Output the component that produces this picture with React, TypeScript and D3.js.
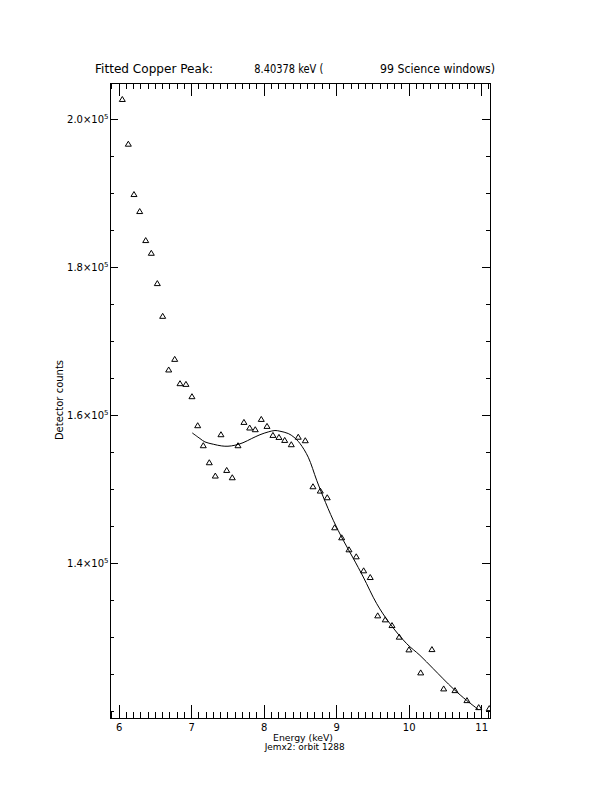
import React from "react";
import * as d3 from "d3";

// Measured spectrum (energy in keV, detector counts)
const energy = [
  6.043, 6.126, 6.204, 6.283, 6.366, 6.443, 6.526, 6.6, 6.683, 6.766,
  6.839, 6.921, 7.004, 7.083, 7.16, 7.243, 7.326, 7.404, 7.483, 7.56,
  7.639, 7.721, 7.8, 7.877, 7.96, 8.039, 8.121, 8.204, 8.283, 8.374,
  8.47, 8.567, 8.673, 8.774, 8.87, 8.972, 9.069, 9.17, 9.27, 9.372,
  9.463, 9.566, 9.67, 9.763, 9.863, 9.997, 10.159, 10.314, 10.476, 10.632,
  10.797, 10.959, 11.105,
];
const counts = [
  202743, 196703, 189905, 187608, 183689, 181972, 177878, 173458, 166215, 167647,
  164363, 164269, 162607, 158688, 155985, 153687, 151890, 157471, 152647, 151660,
  155985, 159134, 158377, 158147, 159539, 158593, 157377, 157106, 156701, 156120,
  157133, 156661, 150444, 149863, 148958, 144903, 143552, 141930, 140984, 139092,
  138187, 133011, 132471, 131700, 130133, 128416, 125308, 128457, 123146, 122916,
  121565, 120619, 120484,
];

// Fitted model curve
const fitEnergy = [
  7.008, 7.114, 7.183, 7.298, 7.414, 7.501, 7.597, 7.708, 7.828, 7.942,
  8.057, 8.149, 8.218, 8.332, 8.411, 8.494, 8.608, 8.724, 8.815, 8.953,
  9.091, 9.229, 9.367, 9.552, 9.735, 9.966, 10.149, 10.332, 10.608, 10.793,
  10.953,
];
const fitCounts = [
  157647, 156890, 156431, 156120, 155890, 155850, 155985, 156322, 156890, 157403,
  157782, 157971, 157877, 157566, 157066, 156215, 154364, 151255, 149000, 145850,
  143148, 140716, 138187, 134592, 131889, 129187, 127605, 125808, 123106, 121525,
  120308,
];

const xMajorTicks = [6, 7, 8, 9, 10, 11];
const xTickLabels = ["6", "7", "8", "9", "10", "11"];
const yMajorTicks = [140000, 160000, 180000, 200000];
const yTickMantissa = ["1.4", "1.6", "1.8", "2.0"];
const yTickExponent = "5";

const titleParts = ["Fitted Copper Peak:", "8.40378 keV (", "99 Science windows)"];
const xTitle = "Energy (keV)";
const subTitle = "Jemx2: orbit 1288";
const yTitle = "Detector counts";

const W = 612;
const H = 792;
const L = 110.7;
const R = 490;
const T = 83;
const B = 718;

const FONT = "'DejaVu Sans', sans-serif";

export default function App() {
  const x = d3.scaleLinear().domain([5.883, 11.115]).range([L, R]);
  const y = d3.scaleLinear().domain([119150, 204900]).range([B, T]);

  const xMinor = d3.range(59, 112, 1).map((v) => v / 10).filter((v) => x(v) >= L && x(v) <= R);
  const yMinor = d3.range(120000, 205000, 5000).filter((v) => y(v) >= T && y(v) <= B);

  const xMajLen = 0.02 * (B - T);
  const yMajLen = 0.02 * (R - L);

  const line = d3
    .line<number>()
    .x((_, i) => x(fitEnergy[i]))
    .y((_, i) => y(fitCounts[i]))
    .curve(d3.curveCatmullRom.alpha(0.5));

  const tri = (cx: number, cy: number) =>
    `M${cx - 3},${cy + 2.5}L${cx},${cy - 2.5}L${cx + 3},${cy + 2.5}Z`;

  return (
    <svg
      width={W}
      height={H}
      viewBox={`0 0 ${W} ${H}`}
      style={{ position: "absolute", left: 0, top: 0, background: "#fff" }}
    >
      <rect x={0} y={0} width={W} height={H} fill="#fff" />
      <defs>
        <clipPath id="plotclip">
          <rect x={L} y={T} width={R - L} height={B - T} />
        </clipPath>
      </defs>

      {/* frame */}
      <rect x={L} y={T} width={R - L} height={B - T} fill="none" stroke="#000" strokeWidth={1} shapeRendering="crispEdges" />

      {/* ticks */}
      <g stroke="#000" strokeWidth={1} shapeRendering="crispEdges">
        {xMinor.map((v) => {
          const isMajor = xMajorTicks.some((m) => Math.abs(m - v) < 1e-6);
          const len = isMajor ? xMajLen : xMajLen / 2;
          return (
            <g key={"xt" + v}>
              <line x1={x(v)} x2={x(v)} y1={B} y2={B - len} />
              <line x1={x(v)} x2={x(v)} y1={T} y2={T + len} />
            </g>
          );
        })}
        {yMinor.map((v) => {
          const isMajor = yMajorTicks.includes(v);
          const len = isMajor ? yMajLen : yMajLen / 2;
          return (
            <g key={"yt" + v}>
              <line x1={L} x2={L + len} y1={y(v)} y2={y(v)} />
              <line x1={R} x2={R - len} y1={y(v)} y2={y(v)} />
            </g>
          );
        })}
      </g>

      {/* x tick labels */}
      <g fontFamily={FONT} fontSize={10} fill="#000" textAnchor="middle">
        {xMajorTicks.map((v, i) => (
          <text key={"xl" + v} x={x(v)} y={731}>
            {xTickLabels[i]}
          </text>
        ))}
      </g>

      {/* y tick labels */}
      <g fontFamily={FONT} fontSize={10} fill="#000" textAnchor="end">
        {yMajorTicks.map((v, i) => (
          <text key={"yl" + v} x={108.5} y={y(v) + 3.4}>
            {yTickMantissa[i] + "\u00d710"}
            <tspan fontSize={7} dy={-4}>
              {yTickExponent}
            </tspan>
          </text>
        ))}
      </g>

      {/* data points and fit */}
      <g clipPath="url(#plotclip)" fill="none" stroke="#000" strokeWidth={1}>
        {energy.map((e, i) => (
          <path key={"p" + i} d={tri(x(e), y(counts[i]))} />
        ))}
        <path d={line(fitEnergy) || ""} />
      </g>

      {/* titles */}
      <g fontFamily={FONT} fontSize={12} fill="#000">
        <text x={95} y={73} textLength={118} lengthAdjust="spacingAndGlyphs">
          {titleParts[0]}
        </text>
        <text x={254.3} y={73} textLength={69} lengthAdjust="spacingAndGlyphs">
          {titleParts[1]}
        </text>
        <text x={380} y={73} textLength={115} lengthAdjust="spacingAndGlyphs">
          {titleParts[2]}
        </text>
      </g>
      <g fontFamily={FONT} fill="#000" textAnchor="middle">
        <text x={303} y={740.5} fontSize={9} textLength={60} lengthAdjust="spacingAndGlyphs">
          {xTitle}
        </text>
        <text x={304.7} y={750} fontSize={8.5} textLength={80} lengthAdjust="spacingAndGlyphs">
          {subTitle}
        </text>
        <text x={63} y={400} fontSize={10} transform="rotate(-90 63 400)">
          {yTitle}
        </text>
      </g>
    </svg>
  );
}
